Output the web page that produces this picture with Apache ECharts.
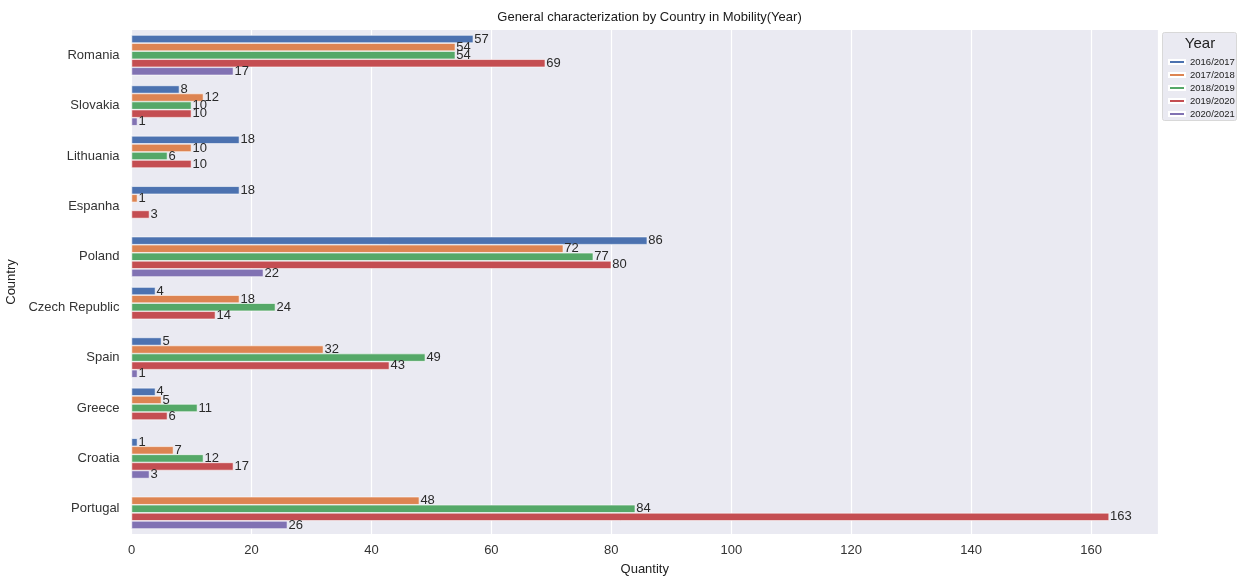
<!DOCTYPE html>
<html>
<head>
<meta charset="utf-8">
<script src="https://cdn.jsdelivr.net/npm/echarts@6/dist/echarts.min.js"></script>
<style>
html,body{margin:0;padding:0;background:#fff;}
#chart{width:1239px;height:576px;}
</style>
</head>
<body>
<div id="chart"></div>
<script>
const countries = ['Romania','Slovakia','Lithuania','Espanha','Poland','Czech Republic','Spain','Greece','Croatia','Portugal'];
const years = ['2016/2017','2017/2018','2018/2019','2019/2020','2020/2021'];
const y2016 = [57, 8, 18, 18, 86, 4, 5, 4, 1, null];
const y2017 = [54, 12, 10, 1, 72, 18, 32, 5, 7, 48];
const y2018 = [54, 10, 6, null, 77, 24, 49, 11, 12, 84];
const y2019 = [69, 10, 10, 3, 80, 14, 43, 6, 17, 163];
const y2020 = [17, 1, null, null, 22, null, 1, null, 3, 26];
const xTicks = [0, 20, 40, 60, 80, 100, 120, 140, 160];
const colors = ['#4C72B0','#DD8452','#55A868','#C44E52','#8172B3'];
const seriesData = [y2016, y2017, y2018, y2019, y2020];

const chart = echarts.init(document.getElementById('chart'));
const font = 'Liberation Sans, Arial, sans-serif';
chart.setOption({
  animation: false,
  backgroundColor: '#ffffff',
  color: colors,
  title: [{
    text: 'General characterization by Country in Mobility(Year)',
    left: 644.5, top: 9, textAlign: 'center', padding: [2,5],
    textStyle: {fontSize: 13, fontWeight: 'normal', color: '#1a1a1a', fontFamily: font}
  }, {
    text: 'Year',
    left: 1200, top: 36, textAlign: 'center', padding: 0,
    textStyle: {fontSize: 15, fontWeight: 'normal', color: '#222', fontFamily: font}
  }],
  graphic: [{
    type: 'rect', z: 0,
    shape: {x: 1162.5, y: 32.5, width: 74, height: 88, r: 2},
    style: {fill: '#EAEAF2', stroke: '#d8d8d8', lineWidth: 1}
  }],
  legend: {
    orient: 'vertical', left: 1168, top: 57, padding: 0,
    itemWidth: 16, itemHeight: 4, itemGap: 3,
    icon: 'rect',
    textStyle: {fontSize: 9.5, color: '#222', fontFamily: font, padding: [0,0,0,0]},
    data: years, z: 5
  },
  grid: {left: 131.5, right: 81, top: 30, bottom: 42, show: true, backgroundColor: '#EAEAF2', borderWidth: 0, outerBoundsMode: 'none', containLabel: false},
  xAxis: {
    type: 'value', min: 0, max: 171.15, interval: 20,
    name: 'Quantity', nameLocation: 'middle', nameGap: 29,
    nameTextStyle: {fontSize: 13, color: '#222', fontFamily: font},
    axisLine: {show: false}, axisTick: {show: false},
    axisLabel: {fontSize: 13, color: '#333', fontFamily: font, margin: 10, showMaxLabel: false,
      formatter: v => xTicks.includes(v) ? String(v) : ''},
    splitLine: {show: true, lineStyle: {color: '#ffffff', width: 1.2}}
  },
  yAxis: {
    type: 'category', data: countries, inverse: true,
    name: 'Country', nameLocation: 'middle', nameGap: 107, nameRotate: 90,
    nameTextStyle: {fontSize: 13, color: '#222', fontFamily: font},
    axisLine: {show: false}, axisTick: {show: false},
    axisLabel: {fontSize: 13, color: '#333', fontFamily: font, margin: 12},
    splitLine: {show: false}
  },
  series: seriesData.map((d, i) => ({
    name: years[i], type: 'bar', data: d,
    barGap: '0%', barCategoryGap: '20%',
    itemStyle: {color: colors[i], borderColor: '#ffffff', borderWidth: 0.6},
    label: {show: true, position: 'right', distance: 1, fontSize: 13, color: '#2a2a2a', fontFamily: font}
  }))
});
</script>
</body>
</html>
